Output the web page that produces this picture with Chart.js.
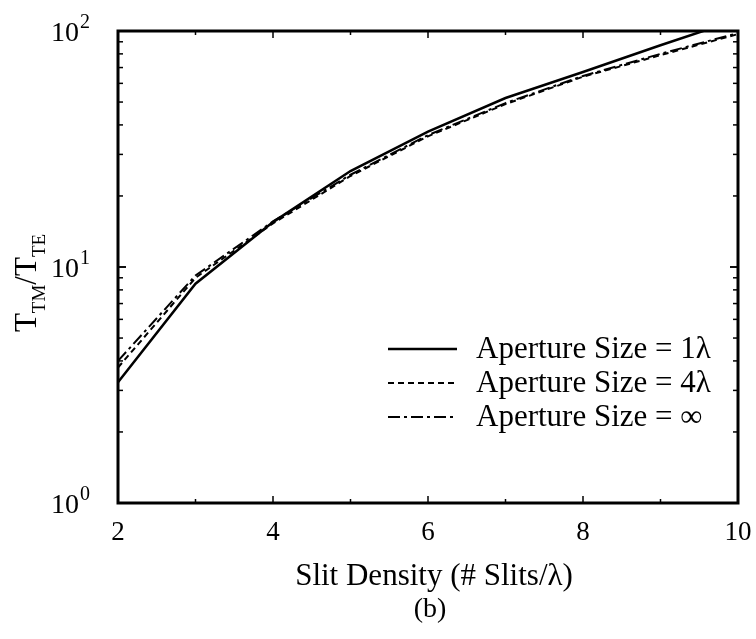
<!DOCTYPE html>
<html>
<head>
<meta charset="utf-8">
<script src="https://cdn.jsdelivr.net/npm/chart.js@4"></script>
<style>
  html, body { margin: 0; padding: 0; background: #fff; }
  #wrap { width: 756px; height: 639px; }
</style>
</head>
<body>
<div id="wrap"><canvas id="chart" width="756" height="639"></canvas></div>
<script>
// values
const slitDensity = [2, 3, 4, 5, 6, 7, 8, 9, 10];
const aperture1 = [3.25, 8.5, 15.5, 25.5, 37.5, 52, 67, 87, 112];
const aperture4 = [3.75, 9.0, 15.3, 24.3, 35.8, 49, 64, 79, 97];
const apertureInf = [4.0, 9.2, 15.6, 24.6, 36.2, 49.5, 64.5, 80, 98];
const seriesLabels = ['Aperture Size = 1λ', 'Aperture Size = 4λ', 'Aperture Size = ∞'];
const yDecades = [1, 10, 100];
const yExponents = ['0', '1', '2'];
const xTitle = 'Slit Density (# Slits/λ)';
const caption = '(b)';

const serif = "'Liberation Serif', 'Times New Roman', serif";
Chart.defaults.font.family = serif;
Chart.defaults.font.size = 27;
Chart.defaults.color = '#000';

function toPoints(ys) {
  return slitDensity.map((x, i) => ({x: x, y: ys[i]}));
}

function seg(ctx, x1, y1, x2, y2) {
  ctx.beginPath();
  ctx.moveTo(x1, y1);
  ctx.lineTo(x2, y2);
  ctx.stroke();
}

// frame, inward ticks on all four sides, y labels, legend and titles
const decorations = {
  id: 'decorations',
  afterDraw(chart) {
    const {ctx, chartArea: a, scales: {x, y}} = chart;
    ctx.save();
    ctx.strokeStyle = '#000';
    ctx.fillStyle = '#000';
    ctx.lineWidth = 1.5;
    for (let v = 2; v <= 10; v++) {
      const px = x.getPixelForValue(v);
      const len = v % 2 === 0 ? 7 : 4;
      seg(ctx, px, a.bottom, px, a.bottom - len);
      seg(ctx, px, a.top, px, a.top + len);
    }
    [1, 10].forEach(d => {
      for (let k = 1; k <= 10; k++) {
        const py = y.getPixelForValue(k * d);
        const len = (k === 1 || k === 10) ? 8 : 5;
        seg(ctx, a.left, py, a.left + len, py);
        seg(ctx, a.right, py, a.right - len, py);
      }
    });
    ctx.lineWidth = 3;
    ctx.strokeRect(a.left, a.top, a.width, a.height);

    // y tick labels 10^n
    ctx.textBaseline = 'alphabetic';
    ctx.textAlign = 'left';
    yDecades.forEach((v, i) => {
      const py = y.getPixelForValue(v);
      ctx.font = '20px ' + serif;
      const we = ctx.measureText(yExponents[i]).width;
      ctx.font = '28px ' + serif;
      const wb = ctx.measureText('10').width;
      const right = a.left - 28;
      ctx.fillText('10', right - we - 1 - wb, py + 10);
      ctx.font = '20px ' + serif;
      ctx.fillText(yExponents[i], right - we, py - 3);
    });

    // legend
    ctx.font = '31px ' + serif;
    ctx.textBaseline = 'middle';
    chart.data.datasets.forEach((ds, i) => {
      const ly = a.bottom - 154 + i * 34;
      ctx.lineWidth = ds.borderWidth;
      ctx.setLineDash(ds.borderDash || []);
      seg(ctx, a.left + 270, ly, a.left + 339, ly);
      ctx.setLineDash([]);
      ctx.fillText(ds.label, a.left + 358, ly + 1);
    });

    // x title and caption
    ctx.textAlign = 'center';
    const cx = (a.left + a.right) / 2;
    ctx.fillText(xTitle, cx + 6, a.bottom + 74);
    ctx.font = '28px ' + serif;
    ctx.fillText(caption, cx + 2, a.bottom + 107);

    // y title T_TM / T_TE
    const parts = [['T', 31, 0], ['TM', 19, 9], ['/', 31, 0], ['T', 31, 0], ['TE', 19, 9]];
    let total = 0;
    parts.forEach(p => { ctx.font = p[1] + 'px ' + serif; total += ctx.measureText(p[0]).width; });
    ctx.translate(36, 283);
    ctx.rotate(-Math.PI / 2);
    ctx.textAlign = 'left';
    ctx.textBaseline = 'alphabetic';
    let tx = -total / 2;
    parts.forEach(p => {
      ctx.font = p[1] + 'px ' + serif;
      ctx.fillText(p[0], tx, p[2]);
      tx += ctx.measureText(p[0]).width;
    });
    ctx.restore();
  }
};

new Chart(document.getElementById('chart'), {
  type: 'line',
  data: {
    datasets: [
      {label: seriesLabels[0], data: toPoints(aperture1), borderColor: '#000', borderWidth: 2.5, borderDash: []},
      {label: seriesLabels[1], data: toPoints(aperture4), borderColor: '#000', borderWidth: 2, borderDash: [6, 4]},
      {label: seriesLabels[2], data: toPoints(apertureInf), borderColor: '#000', borderWidth: 2, borderDash: [12, 4, 3, 4]}
    ]
  },
  options: {
    responsive: false,
    animation: false,
    layout: {padding: {top: 31, right: 18, left: 0, bottom: 0}},
    elements: {point: {radius: 0}, line: {tension: 0, fill: false}},
    plugins: {legend: {display: false}, tooltip: {enabled: false}},
    scales: {
      x: {
        type: 'linear', min: 2, max: 10,
        grid: {display: false, drawTicks: false},
        border: {display: false},
        ticks: {stepSize: 2, padding: 14, autoSkip: false},
        afterFit(scale) {
          scale.height = 136;
          scale.paddingLeft = 0;
          scale.paddingRight = 0;
        }
      },
      y: {
        type: 'logarithmic', min: 1, max: 100,
        grid: {display: false, drawTicks: false},
        border: {display: false},
        ticks: {display: false},
        afterFit(scale) { scale.width = 118; }
      }
    }
  },
  plugins: [decorations]
});
</script>
</body>
</html>
